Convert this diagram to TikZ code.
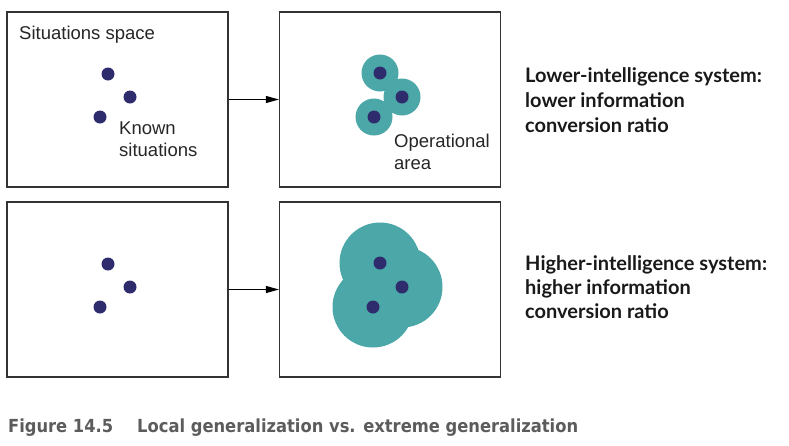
\documentclass[tikz,border=0pt]{standalone}
\usepackage{fontspec}
\usepackage{graphicx}
\setmainfont{Liberation Sans}
\newfontfamily\boldfam{Lato}
\newfontfamily\capfam{DejaVu Sans}
\usetikzlibrary{arrows.meta}
\definecolor{teal1}{HTML}{4CA8A8}
\definecolor{navy1}{HTML}{2F2C6E}
\definecolor{frame1}{HTML}{333333}
\definecolor{capgray}{HTML}{5C5C5C}
\tikzset{
  panel/.style={draw=frame1, line width=1.2pt, minimum width=221pt, minimum height=175pt, inner sep=0pt},
  dot/.style={circle, fill=navy1, minimum size=13pt, inner sep=0pt},
  flow/.style={-{Triangle[length=13pt,width=7pt]}, line width=1pt, black},
  lbl/.style={anchor=base west, inner sep=0pt, font=\fontsize{18.5}{22}\selectfont, text=black!85},
  side/.style={anchor=base west, inner sep=0pt, font=\boldfam\bfseries\fontsize{20}{24}\selectfont, text=black!90},
  captext/.style={anchor=base west, inner sep=0pt, text=capgray, font=\capfam\bfseries\fontsize{18}{20}\selectfont},
}
\begin{document}
\begin{tikzpicture}[x=1pt,y=-1pt]
\useasboundingbox (0,0) rectangle (789,445);
% panels
\node[panel] (p1) at (117.5,99.5) {};
\node[panel] (p2) at (390,99.5) {};
\node[panel] (p3) at (117.5,289.5) {};
\node[panel] (p4) at (390,289.5) {};
% arrows
\draw[flow] (p1.east) -- (p2.west);
\draw[flow] (p3.east) -- (p4.west);
% top-left dots
\node[dot] (a1) at (108,74) {};
\node[dot] (a2) at (130,97) {};
\node[dot] (a3) at (100,117) {};
% top-right areas
\fill[teal1] (380,73) circle (18.5) (402,97) circle (18.5) (374,117) circle (18.5);
\node[dot] (b1) at (380,73) {};
\node[dot] (b2) at (402,97) {};
\node[dot] (b3) at (374,117) {};
% bottom-left dots
\node[dot] (c1) at (108,264) {};
\node[dot] (c2) at (130,287) {};
\node[dot] (c3) at (100,307) {};
% bottom-right areas
\fill[teal1] (380,263) circle (40.5) (402,287) circle (40.5) (373,307) circle (40.5);
\node[dot] (d1) at (380,263) {};
\node[dot] (d2) at (402,287) {};
\node[dot] (d3) at (373,307) {};
% labels
\node[lbl] (t1) at (19,39) {Situations space};
\node[lbl] (t2) at (119,134) {Known};
\node[lbl] (t3) at (119,156) {situations};
\node[lbl] (t4) at (394,147.5) {Operational};
\node[lbl] (t5) at (394,169) {area};
% side texts
\node[side] (s1) at (525,82.5) {Lower-intelligence system:};
\node[side] (s2) at (525,107.5) {lower information};
\node[side] (s3) at (525,132.5) {conversion ratio};
\node[side] (s4) at (525,270) {Higher-intelligence system:};
\node[side] (s5) at (525,294.5) {higher information};
\node[side] (s6) at (525,318.5) {conversion ratio};
% caption
\node[captext] (capnum) at (8,432.5) {\resizebox{105pt}{\height}{Figure 14.5}};
\node[captext] (captxt) at (137,432.5) {\resizebox{441pt}{\height}{Local generalization vs. extreme generalization}};
\end{tikzpicture}
\end{document}
